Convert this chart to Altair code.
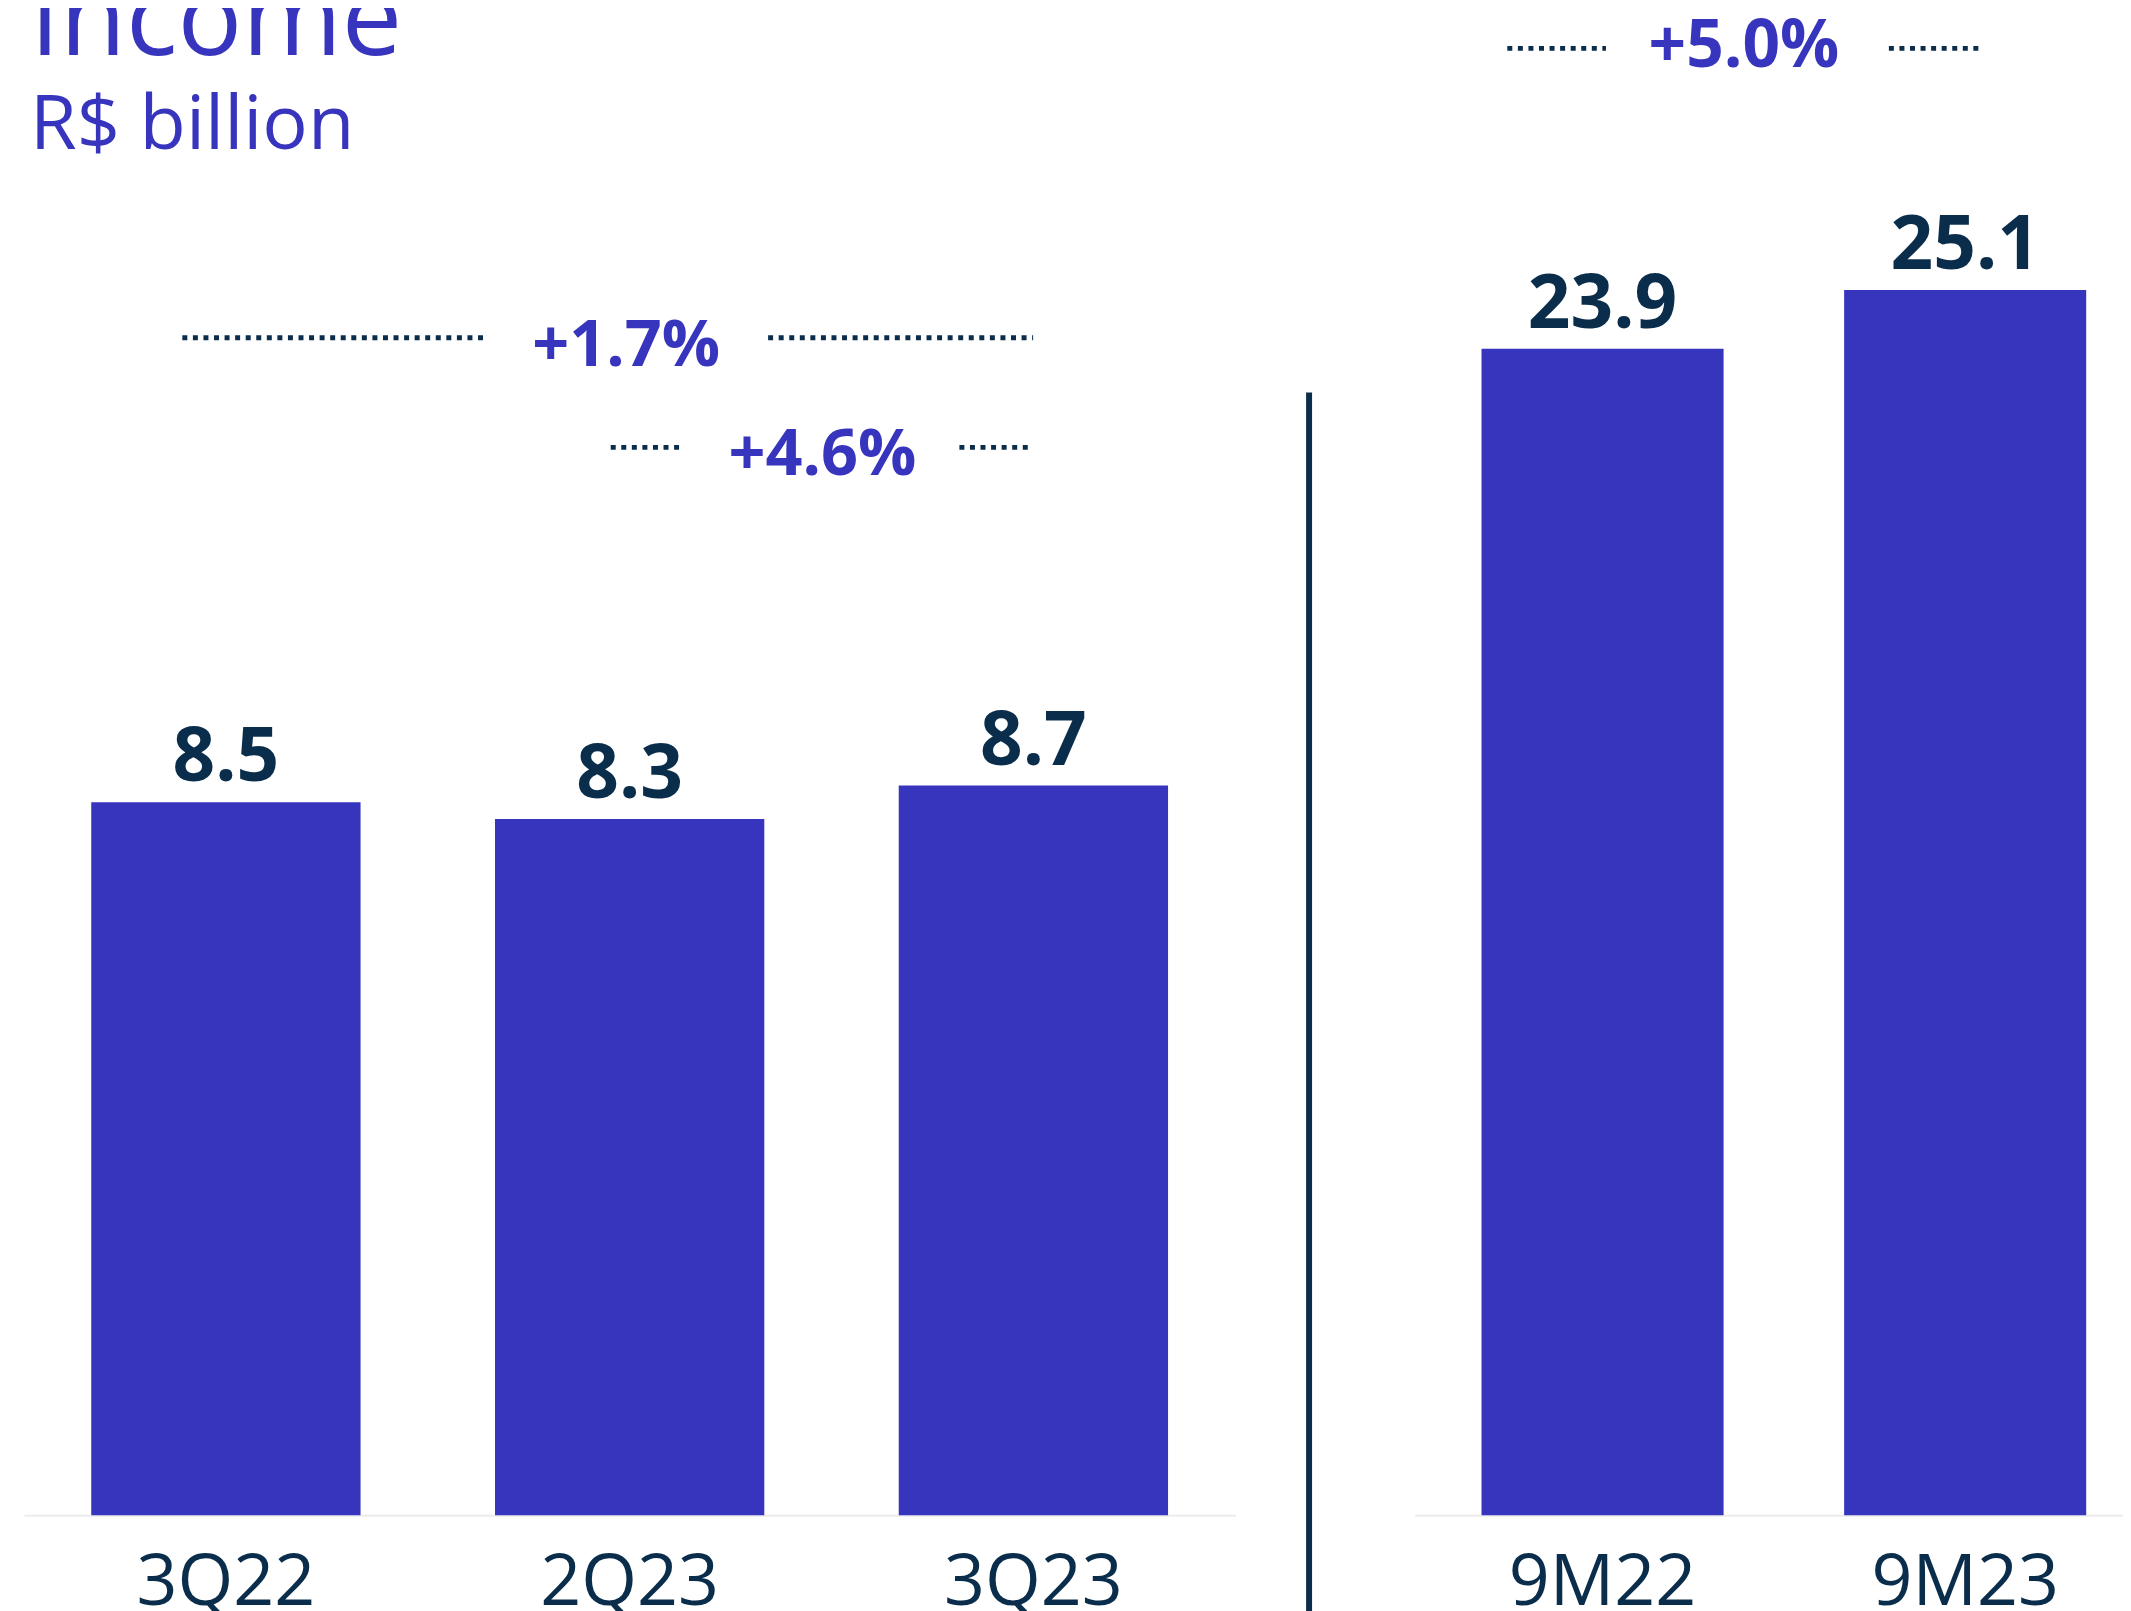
import altair as alt
import pandas as pd

# ---- data ----
quarters = ["3Q22", "2Q23", "3Q23"]
quarter_values = [8.5, 8.3, 8.7]
periods = ["9M22", "9M23"]
period_values = [23.9, 25.1]
title_text = "Income"
subtitle_text = "R$ billion"
growth_labels = ["+1.7%", "+4.6%", "+5.0%"]

PURPLE = "#3734BD"
NAVY = "#0A2D4B"
FONT = "Open Sans"

left_df = pd.DataFrame({"period": quarters, "value": quarter_values})
right_df = pd.DataFrame({"period": periods, "value": period_values})
one = pd.DataFrame({"k": [0]})


def panel(df, domain, x_range, y_domain, y_range, pad_inner, pad_outer, align):
    xs = alt.Scale(type="band", domain=domain, range=x_range,
                   paddingInner=pad_inner, paddingOuter=pad_outer, align=align)
    ys = alt.Scale(domain=y_domain, range=y_range, nice=False, zero=True)
    base = alt.Chart(df)
    bars = base.mark_bar(color=PURPLE).encode(
        x=alt.X("period:N", scale=xs, title=None,
                axis=alt.Axis(orient="bottom", labelAngle=0, labelFont=FONT,
                              labelFontSize=72, labelColor=NAVY,
                              labelFontWeight="normal", labelLimit=0,
                              labelOverlap=False,
                              labelBaseline="alphabetic", labelPadding=90,
                              ticks=False, tickSize=0, grid=False,
                              domainColor="#ECECEC", domainWidth=2)),
        y=alt.Y("value:Q", scale=ys, axis=None),
    )
    labels = base.mark_text(font=FONT, fontSize=75, fontWeight="bold",
                            color=NAVY, baseline="alphabetic", align="center",
                            dy=-21).encode(
        x=alt.X("period:N", scale=xs, axis=None),
        y=alt.Y("value:Q", scale=ys, axis=None),
        text=alt.Text("value:Q", format=".1f"),
    )
    return [bars, labels]


left_layers = panel(left_df, quarters, [16, 1232], [0, 10], [1510, 668],
                    0.333, 0.1667, 0.5)
right_layers = panel(right_df, periods, [1412, 2123], [0, 30], [1510, 40],
                     0.3324, 0.1429, 0.645)


def txt(s, x, y, size, weight="normal", color=PURPLE, align="left"):
    return alt.Chart(one).mark_text(font=FONT, fontSize=size, fontWeight=weight,
                                    color=color, align=align,
                                    baseline="alphabetic").encode(
        x=alt.value(x), y=alt.value(y), text=alt.value(s))


def dots(x1, x2, y):
    return alt.Chart(one).mark_rule(color=NAVY, strokeWidth=5,
                                    strokeDash=[5, 5.6]).encode(
        x=alt.value(x1), x2=alt.value(x2), y=alt.value(y))


annotations = [
    txt(title_text, 22, 44, 108),
    txt(subtitle_text, 22, 139, 76),
    dots(175, 479, 328), dots(763, 1029, 328),
    txt(growth_labels[0], 620.5, 356, 65, "bold", align="center"),
    dots(605, 674, 438), dots(955, 1026, 438),
    txt(growth_labels[1], 817.5, 466, 65, "bold", align="center"),
    dots(1505, 1604, 37.5), dots(1888, 1979, 37.5),
    txt(growth_labels[2], 1742.5, 56, 66, "bold", align="center"),
    alt.Chart(one).mark_rule(color=NAVY, strokeWidth=6).encode(
        x=alt.value(1306), y=alt.value(383), y2=alt.value(1620)),
]

chart = alt.layer(*left_layers, *right_layers, *annotations).resolve_scale(
    x="independent", y="independent"
).properties(
    width=2123, height=1510,
    autosize=alt.AutoSizeParams(type="none"),
    padding={"left": 0, "top": 0, "right": 0, "bottom": 93},
    background="white",
).configure_view(stroke=None)

chart.save("out.html", embed_options={"renderer": "svg", "actions": False})
